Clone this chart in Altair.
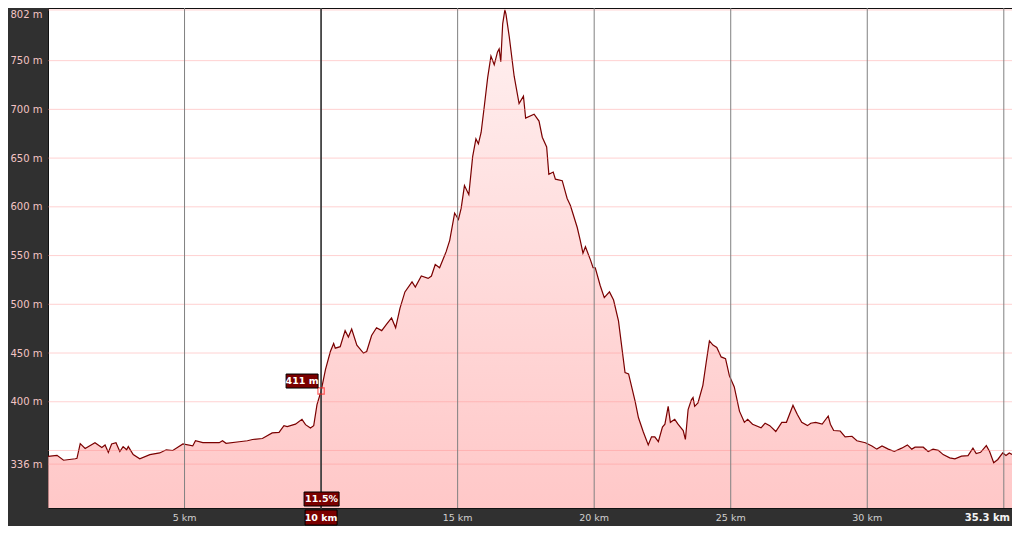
import altair as alt
import pandas as pd

# ---- profile data (distance in km, elevation in m) ----
km = [0.0, 0.33, 0.57, 1.00, 1.06, 1.18, 1.36, 1.72, 1.97, 2.09, 2.21, 2.33, 2.49, 2.63, 2.75,
      2.88, 2.94, 3.12, 3.36, 3.73, 4.09, 4.33, 4.57, 4.94, 5.30, 5.40, 5.67, 6.27, 6.39, 6.52,
      7.00, 7.30, 7.49, 7.85, 8.21, 8.46, 8.64, 8.76, 9.06, 9.30, 9.43, 9.61, 9.73, 9.85, 10.0,
      10.16, 10.34, 10.46, 10.52, 10.70, 10.88, 11.00, 11.12, 11.31, 11.55, 11.67, 11.85, 12.03,
      12.22, 12.40, 12.58, 12.73, 12.89, 13.07, 13.33, 13.45, 13.67, 13.92, 14.04, 14.18, 14.34,
      14.58, 14.71, 14.89, 15.03, 15.13, 15.25, 15.41, 15.55, 15.67, 15.76, 15.86, 15.98, 16.10,
      16.22, 16.34, 16.46, 16.52, 16.58, 16.65, 16.73, 16.77, 16.89, 17.07, 17.25, 17.41, 17.49,
      17.80, 17.98, 18.10, 18.26, 18.34, 18.50, 18.58, 18.83, 19.01, 19.13, 19.38, 19.49, 19.59,
      19.68, 19.86, 19.96, 20.04, 20.22, 20.37, 20.56, 20.71, 20.89, 21.13, 21.26, 21.50, 21.62,
      21.80, 21.98, 22.10, 22.22, 22.35, 22.50, 22.59, 22.71, 22.79, 22.95, 23.07, 23.26, 23.34,
      23.44, 23.56, 23.62, 23.68, 23.80, 23.98, 24.10, 24.22, 24.35, 24.49, 24.65, 24.81, 24.95,
      25.13, 25.32, 25.50, 25.62, 25.80, 26.11, 26.26, 26.43, 26.65, 26.87, 27.04, 27.28, 27.44,
      27.60, 27.81, 27.93, 28.11, 28.35, 28.57, 28.65, 28.77, 29.01, 29.19, 29.44, 29.62, 29.93,
      30.17, 30.35, 30.54, 30.77, 30.99, 31.26, 31.47, 31.63, 31.75, 32.05, 32.23, 32.41, 32.60,
      32.78, 33.02, 33.21, 33.45, 33.69, 33.87, 33.99, 34.15, 34.36, 34.48, 34.63, 34.78, 34.96,
      35.08, 35.20, 35.30]
elev = [344, 345, 340, 341.5, 342, 357, 352, 358, 353, 355.7, 348, 356.7, 358, 349, 354,
        350.7, 354, 345.8, 341.5, 345.8, 347.5, 350.7, 350, 356.7, 354.7, 360, 358, 358, 360, 357.4,
        359, 360, 361.3, 362.3, 368, 368.6, 375.5, 374.5, 377, 382, 376.5, 373, 375.5, 397, 411,
        433, 451.6, 459.8, 455, 456.5, 473, 466.4, 474.7, 458, 450, 451.6, 468, 476,
        473, 479.6, 486, 476, 496, 512.7, 523, 517.7, 529, 526.6, 529, 540.8, 537.5,
        554, 565.6, 593.6, 587, 598.6, 621.8, 612.5, 651.5, 669.7, 664.7, 676.3, 704, 732.5,
        754.6, 745.7, 758.9, 762, 749, 787.8, 802, 797.8, 774.6, 734, 706, 713.6, 691,
        695, 688, 671.4, 661.5, 633.4, 635.7, 628.4, 626.8, 608.6, 601.3, 578.8, 565.6, 552.4,
        559, 545.8, 537.5, 537.5, 519.3, 506.8, 512.7, 504.4, 483, 430, 428.5, 400.3, 383.8,
        369, 355.7, 364, 364, 359, 374, 377, 395.3, 378.9, 382, 377, 370.5, 361.3,
        392, 402, 404.3, 395.3, 398.7, 416.9, 440, 462.5, 458.2, 455.8, 446, 444.3, 426.8,
        415.2, 390.4, 378.9, 382, 377, 373.2, 378, 375.5, 369.5, 378.9, 378.9, 396.3, 387,
        378.9, 375.5, 378, 378.9, 377, 385.4, 377, 370.5, 370, 364, 364.6, 360, 358,
        354.7, 351.4, 354.7, 351.4, 349, 352.4, 355.7, 351.4, 353.4, 353.4, 349, 351.4, 350.2,
        345.8, 342.5, 341.5, 344.2, 344.8, 352.4, 346.8, 348.1, 355, 349, 337.5, 340.8, 347.5,
        344.8, 347.5, 346]

# ---- axis / annotation values ----
y_label_vals = [336, 400, 450, 500, 550, 600, 650, 700, 750, 802]
y_grid_vals = [336, 350, 400, 450, 500, 550, 600, 650, 700, 750, 802]
x_grid_vals = [5, 10, 15, 20, 25, 30, 35]
x_label_vals = [5, 15, 20, 25, 30]
total_km = 35.3
cursor_km = 10
cursor_elev = 411
cursor_grade = "11.5%"
y_min, y_max = 291, 804
y_top_label = 802

W, H = 964, 500
FONT = "DejaVu Sans"

df = pd.DataFrame({"km": km, "elev": elev})
xs = alt.Scale(domain=[0, total_km], nice=False, zero=False)
ys = alt.Scale(domain=[y_min, y_max], nice=False, zero=False)

area = alt.Chart(df).mark_area(
    color=alt.Gradient(
        gradient="linear",
        stops=[alt.GradientStop(color="#ffeaea", offset=0),
               alt.GradientStop(color="#ffb0b0", offset=1)],
        x1=0, x2=0, y1=0, y2=1),
    line={"color": "#7a0000", "strokeWidth": 1.2},
    clip=True,
).encode(
    x=alt.X("km:Q", scale=xs, axis=None),
    y=alt.Y("elev:Q", scale=ys, title=None,
            axis=alt.Axis(values=y_label_vals, labelExpr="datum.value + ' m'",
                          grid=False, ticks=False, domain=False,
                          labelAlign="left", labelPadding=38,
                          labelBaseline={"condition": {"test": f"datum.value == {y_top_label}",
                                                       "value": "top"},
                                         "value": "middle"},
                          labelColor="#f4c4c4", labelFont=FONT, labelFontSize=10)),
    y2=alt.datum(y_min),
)

hgrid = alt.Chart(pd.DataFrame({"v": y_grid_vals})).mark_rule(
    color="#ff8c8c", opacity=0.4, strokeWidth=1
).encode(y=alt.Y("v:Q", scale=ys))

vgrid = alt.Chart(pd.DataFrame({"v": x_grid_vals})).mark_rule(
    color="#808080", strokeWidth=1
).encode(x=alt.X("v:Q", scale=xs))

cursor = alt.Chart().mark_rule(color="#3a3a3a", strokeWidth=1.6).encode(
    x=alt.X(datum=cursor_km, scale=xs),
    y=alt.value(0), y2=alt.value(H + 17))

marker = alt.Chart().mark_point(shape="square", size=40, filled=False,
                                color="#ff2020", strokeWidth=1.2).encode(
    x=alt.X(datum=cursor_km, scale=xs), y=alt.Y(datum=cursor_elev, scale=ys))

# elevation tag
elev_box = alt.Chart().mark_rect(fill="#7a0000", stroke="#000000", strokeWidth=1,
                                 xOffset=-35, x2Offset=-3, yOffset=-17, y2Offset=-3).encode(
    x=alt.X(datum=cursor_km, scale=xs), x2=alt.X2(datum=cursor_km),
    y=alt.Y(datum=cursor_elev, scale=ys), y2=alt.Y2(datum=cursor_elev))
elev_txt = alt.Chart().mark_text(text=f"{cursor_elev} m", color="white", font=FONT,
                                 fontSize=9.5, fontWeight="bold", dx=-19, dy=-10).encode(
    x=alt.X(datum=cursor_km, scale=xs), y=alt.Y(datum=cursor_elev, scale=ys))

# grade tag
grade_box = alt.Chart().mark_rect(fill="#7a0000", stroke="#000000", strokeWidth=1,
                                  xOffset=-17, x2Offset=18).encode(
    x=alt.X(datum=cursor_km, scale=xs), x2=alt.X2(datum=cursor_km),
    y=alt.value(H - 16), y2=alt.value(H - 2))
grade_txt = alt.Chart().mark_text(text=cursor_grade, color="white", font=FONT,
                                  fontSize=9.5, fontWeight="bold", dx=0.5).encode(
    x=alt.X(datum=cursor_km, scale=xs), y=alt.value(H - 9))

# distance tag
dist_box = alt.Chart().mark_rect(fill="#7a0000", stroke="#000000", strokeWidth=1,
                                 xOffset=-16, x2Offset=16).encode(
    x=alt.X(datum=cursor_km, scale=xs), x2=alt.X2(datum=cursor_km),
    y=alt.value(H + 2), y2=alt.value(H + 17))
dist_txt = alt.Chart().mark_text(text=f"{cursor_km} km", color="white", font=FONT,
                                 fontSize=9.5, fontWeight="bold").encode(
    x=alt.X(datum=cursor_km, scale=xs), y=alt.value(H + 10))

# x labels
xl = pd.DataFrame({"v": x_label_vals, "t": [f"{v} km" for v in x_label_vals]})
xlabels = alt.Chart(xl).mark_text(color="#d0d0d0", font=FONT, fontSize=9.5).encode(
    x=alt.X("v:Q", scale=xs), y=alt.value(H + 10), text="t:N")
end_label = alt.Chart().mark_text(text=f"{total_km} km", color="#f4f4f4", font=FONT,
                                  fontSize=10, fontWeight="bold", align="right", dx=-2).encode(
    x=alt.X(datum=total_km, scale=xs), y=alt.value(H + 10))

chart = alt.layer(
    area, hgrid, vgrid, cursor, marker, elev_box, elev_txt,
    grade_box, grade_txt, dist_box, dist_txt, xlabels, end_label
).properties(
    width=W, height=H,
    autosize=alt.AutoSizeParams(type="none"),
    padding={"left": 40, "top": 0, "right": 0, "bottom": 18},
    background="#303030",
).configure_view(fill="white", stroke="#111111", strokeWidth=1)

chart.save("out.html", embed_options={"renderer": "svg", "actions": False})
